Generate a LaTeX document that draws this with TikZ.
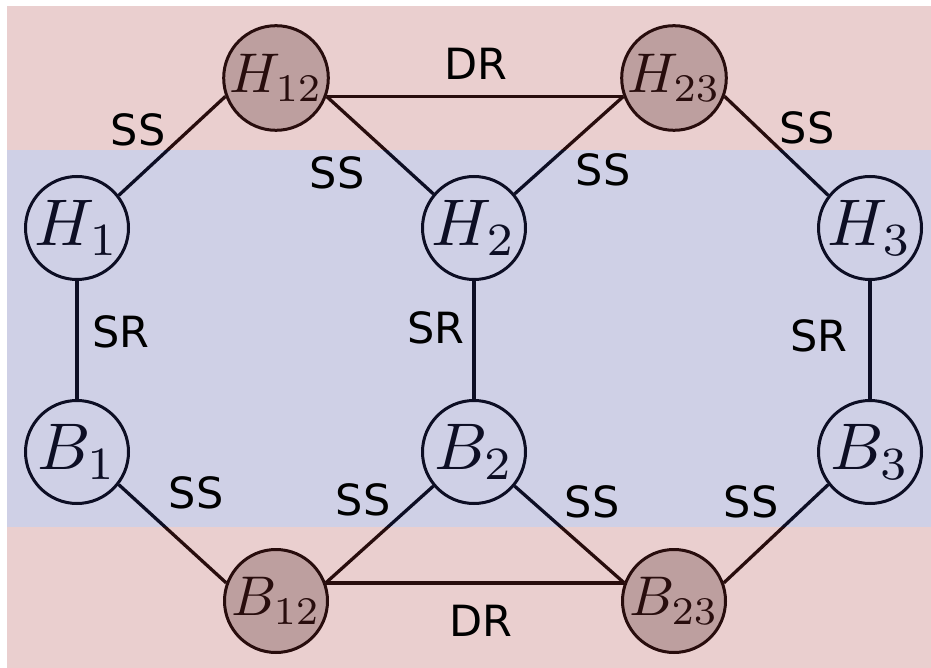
\documentclass[tikz,border=0pt]{standalone}
\usepackage{graphicx}
\usepackage{fontspec}
\newfontfamily\labfont{DejaVu Sans}
\definecolor{pinkov}{RGB}{170,57,57}
\definecolor{blueov}{RGB}{55,59,151}
\definecolor{redfill}{RGB}{196,192,192}
\newcommand{\vtxt}[1]{\scalebox{6.6}{$#1$}}
\newcommand{\rtxt}[1]{\scalebox{5.6}{$#1$}}
\begin{document}
\begin{tikzpicture}[x=1pt,y=-1pt,
  vnode/.style={circle, draw=black, line width=3pt, minimum size=103pt, inner sep=0pt, fill=white},
  rnode/.style={vnode, fill=redfill},
  edge/.style={line width=3.3pt, draw=black},
  lab/.style={font=\labfont\fontsize{43}{50}\selectfont, inner sep=0pt, text=black},
  band/.style={fill opacity=0.24, draw=none}]
\useasboundingbox (0,0) rectangle (931,668);
\fill[white] (0,0) rectangle (931,668);
% nodes
\node[rnode] (H12) at (276,78) {\rtxt{H_{12}}};
\node[rnode] (H23) at (674,78) {\rtxt{H_{23}}};
\node[vnode] (H1) at (77,228) {\vtxt{H_1}};
\node[vnode] (H2) at (474,228) {\vtxt{H_2}};
\node[vnode] (H3) at (870,228) {\vtxt{H_3}};
\node[vnode] (B1) at (77,452) {\vtxt{B_1}};
\node[vnode] (B2) at (474,452) {\vtxt{B_2}};
\node[vnode] (B3) at (870,452) {\vtxt{B_3}};
\node[rnode] (B12) at (276,601) {\rtxt{B_{12}}};
\node[rnode] (B23) at (674,601) {\rtxt{B_{23}}};
% edges
\draw[edge] (H1.38) -- (H12.200);
\draw[edge] (H12.340) -- (H23.200);
\draw[edge] (H12.340) -- (H2.140);
\draw[edge] (H23.200) -- (H2.40);
\draw[edge] (H23.340) -- (H3.142);
\draw[edge] (H1.south) -- (B1.north);
\draw[edge] (H2.south) -- (B2.north);
\draw[edge] (H3.south) -- (B3.north);
\draw[edge] (B1.322) -- (B12.160);
\draw[edge] (B12.20) -- (B2.220);
\draw[edge] (B12.20) -- (B23.160);
\draw[edge] (B2.320) -- (B23.160);
\draw[edge] (B23.20) -- (B3.218);
% tinted bands
\fill[band, pinkov] (7,6) rectangle (931,150);
\fill[band, blueov] (7,150) rectangle (931,527);
\fill[band, pinkov] (7,527) rectangle (931,668);
% labels
\node[lab] (l1) at (476,64) {DR};
\node[lab] (l2) at (138,130) {SS};
\node[lab] (l3) at (337,173) {SS};
\node[lab] (l4) at (603,170) {SS};
\node[lab] (l5) at (807,128) {SS};
\node[lab] (l6) at (121,332) {SR};
\node[lab] (l7) at (436,328) {SR};
\node[lab] (l8) at (819,336) {SR};
\node[lab] (l9) at (196,493) {SS};
\node[lab] (l10) at (363,500) {SS};
\node[lab] (l11) at (592,502) {SS};
\node[lab] (l12) at (751,502) {SS};
\node[lab] (l13) at (481,621) {DR};
\end{tikzpicture}
\end{document}
